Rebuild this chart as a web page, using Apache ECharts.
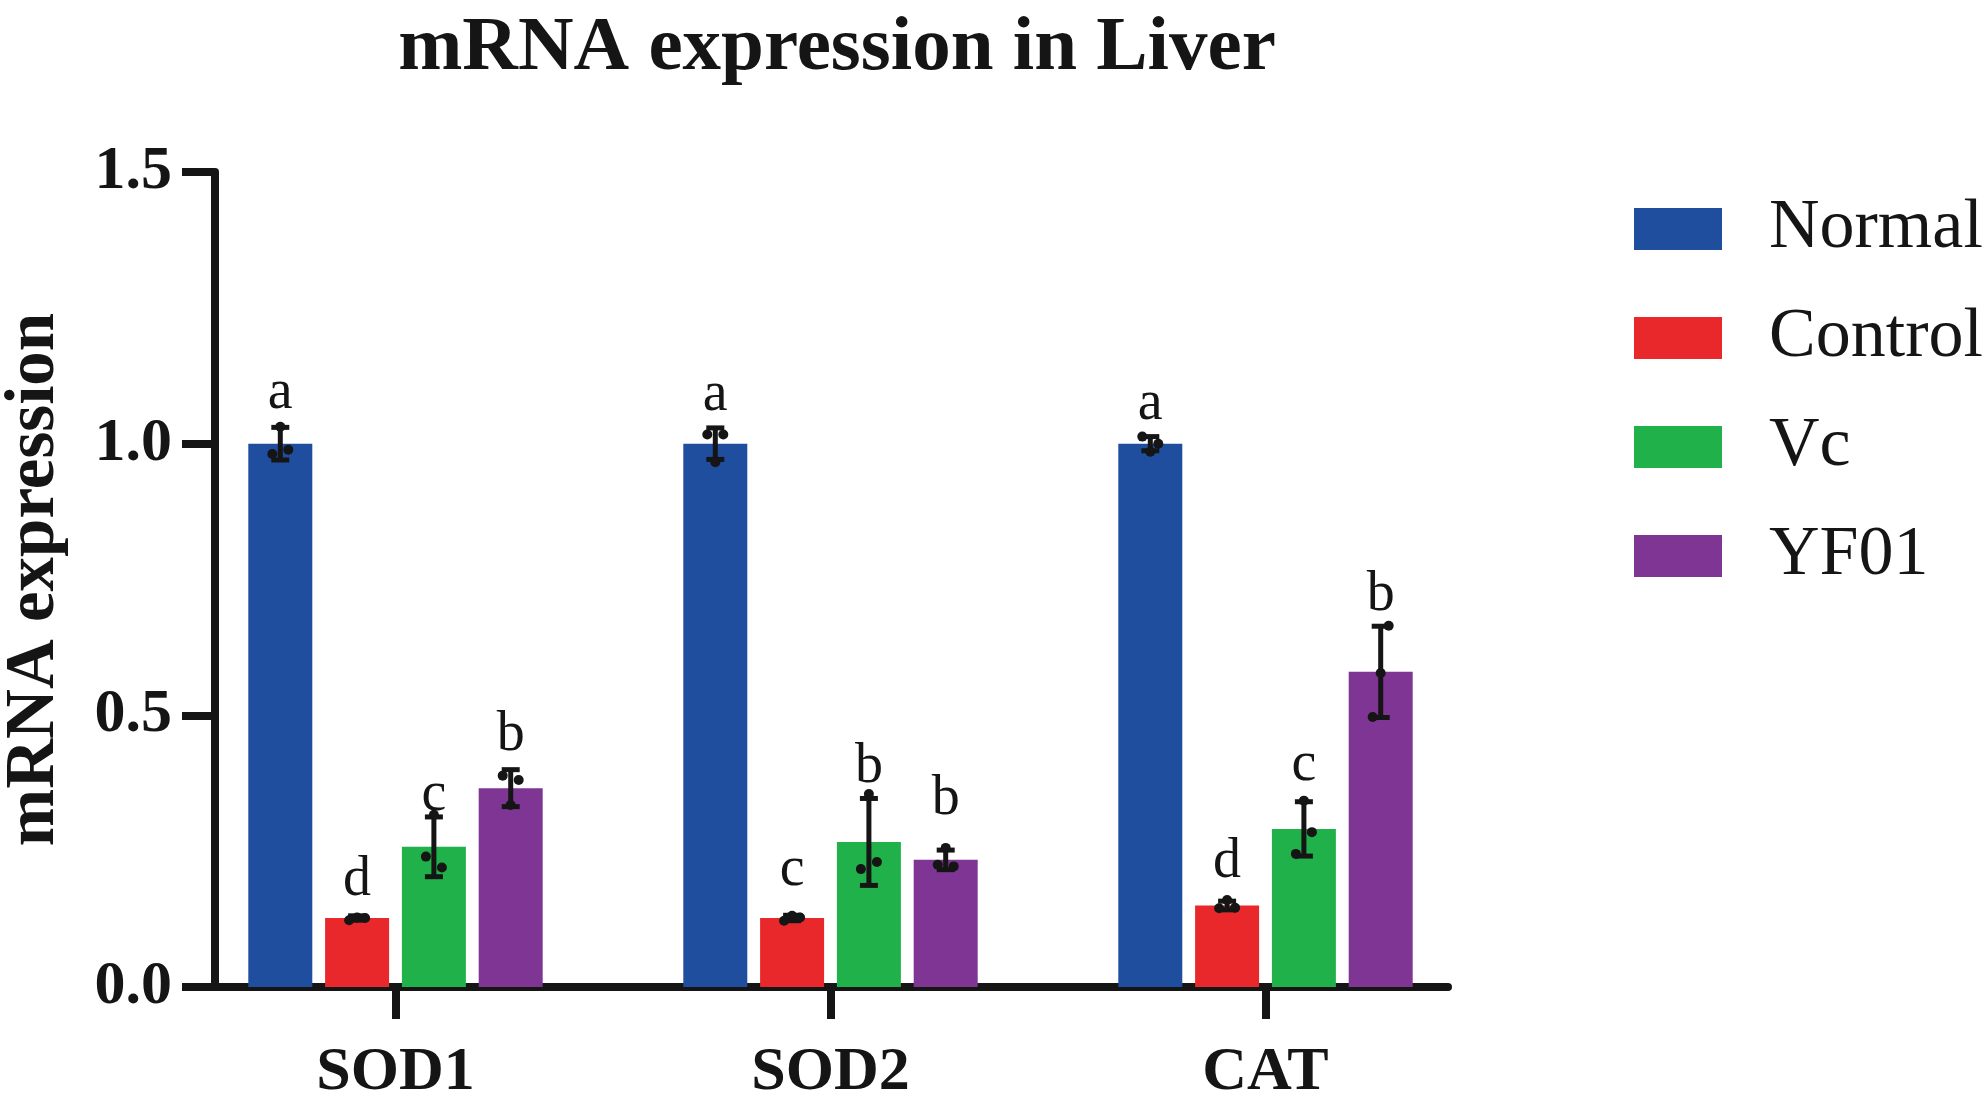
<!DOCTYPE html>
<html>
<head>
<meta charset="utf-8">
<script src="https://cdn.jsdelivr.net/npm/echarts@6/dist/echarts.min.js"></script>
<style>
html, body { margin: 0; padding: 0; background: #fff; }
#main { width: 1983px; height: 1108px; }
</style>
</head>
<body>
<div id="main"></div>
<script>
var categories = ['SOD1', 'SOD2', 'CAT'];
var groups = ['Normal', 'Control', 'Vc', 'YF01'];
var colors = ['#1f4e9f', '#e8282b', '#21b14b', '#7e3593'];
var yTicks = [0, 0.5, 1.0, 1.5];

// bar means per group (SOD1, SOD2, CAT)
var normalMean = [1.0, 1.0, 1.0];
var controlMean = [0.127, 0.127, 0.150];
var vcMean = [0.258, 0.267, 0.291];
var yf01Mean = [0.366, 0.234, 0.580];

// half length of the error bars
var normalErr = [0.030, 0.029, 0.013];
var controlErr = [0.004, 0.005, 0.008];
var vcErr = [0.055, 0.080, 0.050];
var yf01Err = [0.034, 0.018, 0.084];

// individual points
var normalPts = [[0.981, 1.031, 0.989], [1.017, 0.966, 1.017], [1.013, 0.985, 1.000]];
var controlPts = [[0.123, 0.128, 0.127], [0.122, 0.131, 0.128], [0.145, 0.160, 0.146]];
var vcPts = [[0.240, 0.317, 0.220], [0.217, 0.355, 0.230], [0.245, 0.343, 0.285]];
var yf01Pts = [[0.389, 0.335, 0.381], [0.225, 0.256, 0.222], [0.497, 0.578, 0.665]];

// significance letters and the height of their baseline
var normalLetters = ['a', 'a', 'a'];
var controlLetters = ['d', 'c', 'd'];
var vcLetters = ['c', 'b', 'c'];
var yf01Letters = ['b', 'b', 'b'];
var normalLetterY = [1.066, 1.062, 1.044];
var controlLetterY = [0.169, 0.188, 0.202];
var vcLetterY = [0.326, 0.377, 0.381];
var yf01LetterY = [0.436, 0.317, 0.694];

var means = [normalMean, controlMean, vcMean, yf01Mean];
var errs = [normalErr, controlErr, vcErr, yf01Err];
var pts = [normalPts, controlPts, vcPts, yf01Pts];
var letters = [normalLetters, controlLetters, vcLetters, yf01Letters];
var letterY = [normalLetterY, controlLetterY, vcLetterY, yf01LetterY];

var FONT = '"Liberation Serif", "Times New Roman", serif';
var BAR_W = 64;
var BAR_GAP = 0.2;
var jitter = [-8, 0, 8];

var dom = document.getElementById('main');
var myChart = echarts.init(dom);

// x axis of the visible frame: category centres at 0, 1, 2
var axLeft = 215, axRight = 1448, band = 435, firstCenter = 395.5;
var xMin = -(firstCenter - axLeft) / band;
var xMax = xMin + (axRight - axLeft) / band;

var series = [];
for (var g = 0; g < groups.length; g++) {
    series.push({
        name: groups[g],
        type: 'bar',
        xAxisIndex: 0,
        yAxisIndex: 0,
        barWidth: BAR_W,
        barGap: (BAR_GAP * 100) + '%',
        itemStyle: { color: colors[g] },
        data: means[g]
    });
}

var extraData = [];
for (var g = 0; g < groups.length; g++) {
    for (var c = 0; c < categories.length; c++) {
        extraData.push([c, g, means[g][c], errs[g][c], pts[g][c][0], pts[g][c][1], pts[g][c][2], letterY[g][c], letters[g][c]]);
    }
}

series.push({
    type: 'custom',
    xAxisIndex: 0,
    yAxisIndex: 0,
    z: 10,
    silent: true,
    data: extraData,
    renderItem: function (params, api) {
        var c = api.value(0), g = api.value(1);
        var m = api.value(2), e = api.value(3);
        var step = BAR_W * (1 + BAR_GAP);
        var off = (g - 1.5) * step;
        var base = api.coord([c, m]);
        var x = base[0] + off;
        var top = api.coord([c, m + e])[1];
        var bot = api.coord([c, m - e])[1];
        var ly = api.coord([c, api.value(7)])[1];
        var lineStyle = { stroke: '#151515', lineWidth: 5 };
        var children = [
            { type: 'line', shape: { x1: x, y1: top, x2: x, y2: bot }, style: lineStyle },
            { type: 'line', shape: { x1: x - 9, y1: top, x2: x + 9, y2: top }, style: lineStyle },
            { type: 'line', shape: { x1: x - 9, y1: bot, x2: x + 9, y2: bot }, style: lineStyle }
        ];
        for (var k = 0; k < 3; k++) {
            var py = api.coord([c, api.value(4 + k)])[1];
            children.push({ type: 'circle', shape: { cx: x + jitter[k], cy: py, r: 5 }, style: { fill: '#151515' } });
        }
        children.push({
            type: 'text',
            style: {
                text: api.value(8),
                x: x,
                y: ly + 13,
                align: 'center',
                verticalAlign: 'bottom',
                font: '56px ' + FONT,
                fill: '#151515'
            }
        });
        return { type: 'group', children: children };
    }
});

var option = {
    backgroundColor: '#fff',
    animation: false,
    title: {
        text: 'mRNA expression in Liver',
        left: 832,
        top: 6,
        textAlign: 'center',
        textStyle: { fontFamily: FONT, fontWeight: 'bold', fontSize: 77, color: '#151515' }
    },
    legend: {
        data: groups,
        orient: 'vertical',
        left: 1629,
        top: 189,
        itemWidth: 88,
        itemHeight: 42,
        itemGap: 39,
        icon: 'rect',
        selectedMode: false,
        textStyle: { fontFamily: FONT, fontSize: 70, color: '#151515', padding: [0, 0, 0, 42] }
    },
    grid: [
        { left: firstCenter - band / 2, width: band * 3, top: 172, bottom: 121, outerBoundsMode: 'none', containLabel: false },
        { left: axLeft, right: 1983 - axRight, top: 172, bottom: 121, outerBoundsMode: 'none', containLabel: false }
    ],
    xAxis: [
        { type: 'category', gridIndex: 0, data: categories, show: false },
        {
            type: 'value', gridIndex: 1, min: xMin, max: xMax,
            axisLine: { onZero: false, lineStyle: { color: '#151515', width: 8 } },
            axisTick: { customValues: [0, 1, 2], length: 32, lineStyle: { color: '#151515', width: 8 } },
            axisLabel: {
                customValues: [0, 1, 2],
                margin: 55,
                formatter: function (v) { return categories[Math.round(v)]; },
                fontFamily: FONT, fontWeight: 'bold', fontSize: 62, color: '#151515'
            },
            splitLine: { show: false }
        }
    ],
    yAxis: [
        { type: 'value', gridIndex: 0, min: 0, max: 1.5, show: false },
        {
            type: 'value', gridIndex: 1, min: yTicks[0], max: yTicks[yTicks.length - 1], interval: 0.5,
            name: 'mRNA expression',
            nameLocation: 'middle',
            nameGap: 145,
            nameTextStyle: { fontFamily: FONT, fontWeight: 'bold', fontSize: 69, color: '#151515' },
            axisLine: { onZero: false, lineStyle: { color: '#151515', width: 8 } },
            axisTick: { length: 33, lineStyle: { color: '#151515', width: 8 } },
            axisLabel: {
                margin: 43,
                formatter: function (v) { return v.toFixed(1); },
                fontFamily: FONT, fontWeight: 'bold', fontSize: 62, color: '#151515'
            },
            splitLine: { show: false }
        }
    ],
    series: series
};

if (option && typeof option === 'object') {
    myChart.setOption(option);
}
</script>
</body>
</html>
